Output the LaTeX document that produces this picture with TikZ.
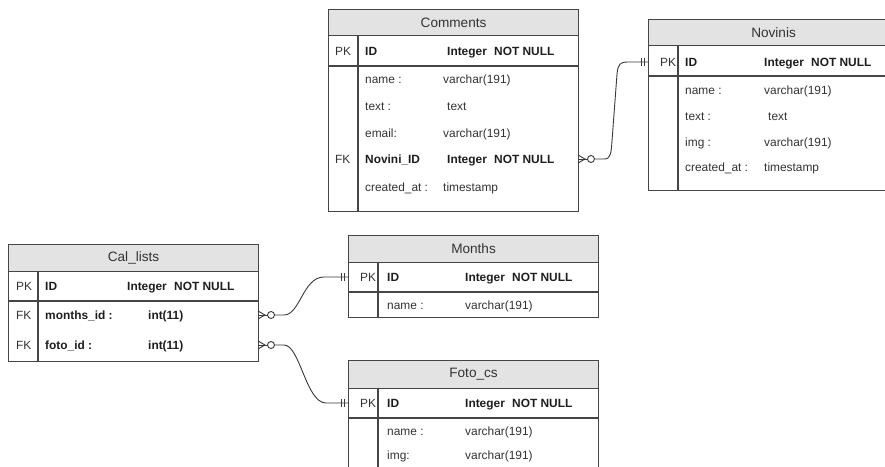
\documentclass[tikz,border=0pt]{standalone}
\usepackage{fontspec}
\setmainfont{Liberation Sans}
\usetikzlibrary{calc}
\definecolor{edge}{HTML}{454545}
\definecolor{head}{HTML}{E3E3E3}
\definecolor{txt}{HTML}{333333}
\definecolor{ink}{HTML}{1E1E1E}
\definecolor{link}{HTML}{3A3A3A}
\newcommand{\fbody}{\fontsize{11.9}{14}\selectfont}
\newcommand{\ftitle}{\fontsize{13.6}{16}\selectfont}
\newcommand{\nn}{Integer\hspace{4pt} NOT NULL}
\tikzset{
  tbl/.style={draw=edge, line width=1.1pt, fill=white, anchor=north west, minimum width=250pt, inner sep=0},
  hdr/.style={draw=edge, line width=1.1pt, fill=head, anchor=north west, minimum width=250pt, minimum height=26pt, inner sep=0, font=\ftitle, text=txt},
  rule/.style={draw=edge, line width=1.1pt},
  lbl/.style={anchor=west, inner sep=0, text height=8.6pt, text depth=0pt, font=\fbody, text=txt},
  bld/.style={lbl, font=\fbody\bfseries, text=ink},
  key/.style={lbl, text=txt},
  rel/.style={draw=link, line width=0.9pt},
}
\begin{document}
\begin{tikzpicture}[x=1pt,y=-1pt]
\useasboundingbox (0,0) rectangle (885,466);
\clip (0,0) rectangle (885,466);
\fill[white] (0,0) rectangle (885,466);

% ---------- Comments ----------
\node[tbl, minimum height=202pt] (comments) at (328,9) {};
\node[hdr] (comments-h) at (328,9) {Comments};
\draw[rule] (328,66) -- (578,66);
\draw[rule] (358,35) -- (358,211);
\node[key] (c-pk) at (335,51) {PK};
\node[bld] (c-id) at (365,51) {ID};
\node[bld] (c-idt) at (447,51) {\nn};
\node[lbl] (c-n) at (365,79) {name :};
\node[lbl] (c-nt) at (443,79) {varchar(191)};
\node[lbl] (c-x) at (365,106) {text :};
\node[lbl] (c-xt) at (447,106) {text};
\node[lbl] (c-e) at (365,133) {email:};
\node[lbl] (c-et) at (443,133) {varchar(191)};
\node[key] (c-fk) at (335,159) {FK};
\node[bld] (c-nid) at (365,159) {Novini\_ID};
\node[bld] (c-nidt) at (447,159) {\nn};
\node[lbl] (c-c) at (365,187) {created\_at :};
\node[lbl] (c-ct) at (443,187) {timestamp};
\coordinate (com-fk) at (578,159);

% ---------- Novinis ----------
\node[tbl, minimum height=171pt] (novinis) at (648,19) {};
\node[hdr] (novinis-h) at (648,19) {Novinis};
\draw[rule] (648,76) -- (898,76);
\draw[rule] (678,45) -- (678,190);
\node[key] (n-pk) at (660,62) {PK};
\node[bld] (n-id) at (685,62) {ID};
\node[bld] (n-idt) at (764,62) {\nn};
\node[lbl] (n-n) at (685,90) {name :};
\node[lbl] (n-nt) at (764,90) {varchar(191)};
\node[lbl] (n-x) at (685,116) {text :};
\node[lbl] (n-xt) at (768,116) {text};
\node[lbl] (n-i) at (685,142) {img :};
\node[lbl] (n-it) at (764,142) {varchar(191)};
\node[lbl] (n-c) at (685,167) {created\_at :};
\node[lbl] (n-ct) at (764,167) {timestamp};
\coordinate (nov-pk) at (648,62);

% ---------- Cal_lists ----------
\node[tbl, minimum height=117pt] (cal) at (8,244) {};
\node[hdr, minimum height=27pt] (cal-h) at (8,244) {Cal\_lists};
\draw[rule] (8,301) -- (258,301);
\draw[rule] (38,271) -- (38,361);
\node[key] (l-pk) at (16,286) {PK};
\node[bld] (l-id) at (45,286) {ID};
\node[bld] (l-idt) at (127,286) {\nn};
\node[key] (l-fk1) at (16,315) {FK};
\node[bld] (l-m) at (45,315) {months\_id :};
\node[bld] (l-mt) at (148,315) {int(11)};
\node[key] (l-fk2) at (16,345) {FK};
\node[bld] (l-f) at (45,345) {foto\_id :};
\node[bld] (l-ft) at (148,345) {int(11)};
\coordinate (cal-m) at (258,315);
\coordinate (cal-f) at (258,345);

% ---------- Months ----------
\node[tbl, minimum height=82pt] (months) at (348,235) {};
\node[hdr, minimum height=27pt] (months-h) at (348,235) {Months};
\draw[rule] (348,292) -- (598,292);
\draw[rule] (378,262) -- (378,317);
\node[key] (m-pk) at (360,277) {PK};
\node[bld] (m-id) at (387,277) {ID};
\node[bld] (m-idt) at (465,277) {\nn};
\node[lbl] (m-n) at (387,305) {name :};
\node[lbl] (m-nt) at (465,305) {varchar(191)};
\coordinate (mon-pk) at (348,277);

% ---------- Foto_cs ----------
\node[tbl, minimum height=125pt] (foto) at (348,360) {};
\node[hdr, minimum height=28pt] (foto-h) at (348,360) {Foto\_cs};
\draw[rule] (348,418) -- (598,418);
\draw[rule] (378,388) -- (378,485);
\node[key] (f-pk) at (360,403) {PK};
\node[bld] (f-id) at (387,403) {ID};
\node[bld] (f-idt) at (465,403) {\nn};
\node[lbl] (f-n) at (387,431) {name :};
\node[lbl] (f-nt) at (465,431) {varchar(191)};
\node[lbl] (f-i) at (387,455) {img:};
\node[lbl] (f-it) at (465,455) {varchar(191)};
\coordinate (fot-pk) at (348,403);

% ---------- relationships: zero-or-many ends ----------
\foreach \p in {com-fk, cal-m, cal-f}{
  \draw[rel] ($(\p)+(0,-4)$) -- ($(\p)+(7,0)$) -- ($(\p)+(0,4)$);
  \draw[rel] (\p) -- ($(\p)+(9.5,0)$);
  \draw[rel] ($(\p)+(13,0)$) circle (3.5pt);
}
% ---------- relationships: exactly-one ends ----------
\foreach \p in {nov-pk, mon-pk, fot-pk}{
  \draw[rel] ($(\p)+(-7,-4)$) -- ($(\p)+(-7,4)$);
  \draw[rel] ($(\p)+(-4,-4)$) -- ($(\p)+(-4,4)$);
}
% ---------- relationship lines ----------
\draw[rel] ($(com-fk)+(16.5,0)$) -- ($(com-fk)+(26,0)$)
  .. controls ($(com-fk)+(33,0)$) and ($(com-fk)+(33,-6)$) .. ($(com-fk)+(34,-18)$)
  -- ($(nov-pk)+(-31,12)$)
  .. controls ($(nov-pk)+(-30,2)$) and ($(nov-pk)+(-28,0)$) .. ($(nov-pk)+(-20,0)$)
  -- (nov-pk);
\draw[rel] ($(cal-m)+(16.5,0)$) -- ($(cal-m)+(26,0)$)
  .. controls ($(cal-m)+(42,0)$) and ($(mon-pk)+(-45,0)$) .. ($(mon-pk)+(-24,0)$)
  -- (mon-pk);
\draw[rel] ($(cal-f)+(16.5,0)$) -- ($(cal-f)+(26,0)$)
  .. controls ($(cal-f)+(42,0)$) and ($(fot-pk)+(-42,0)$) .. ($(fot-pk)+(-22,0)$)
  -- (fot-pk);
\end{tikzpicture}
\end{document}
